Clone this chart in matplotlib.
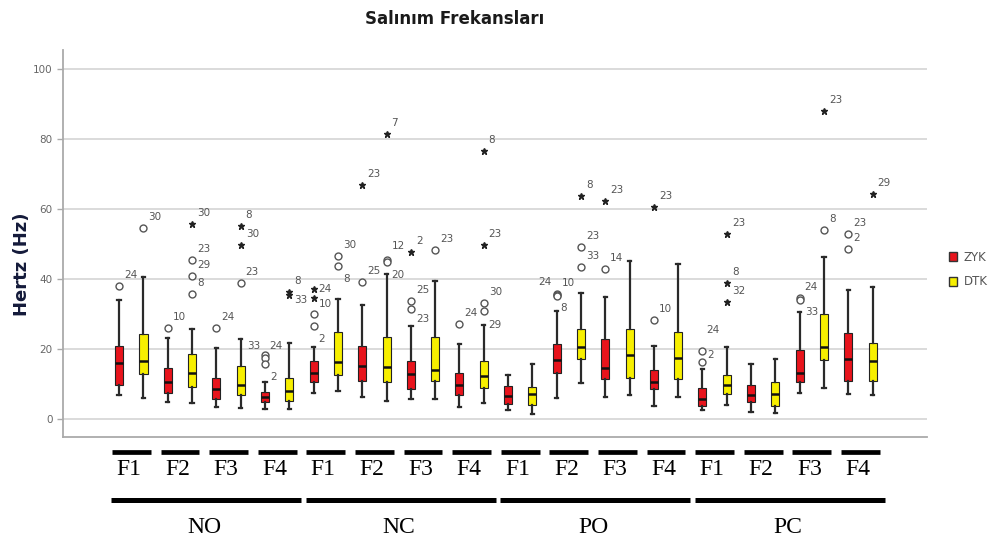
import matplotlib.pyplot as plt
from matplotlib.patches import Patch

conditions = ['NO', 'NC', 'PO', 'PC']
freqs = ['F1', 'F2', 'F3', 'F4']
groups = ['ZYK', 'DTK']
colors = {'ZYK': '#e8141c', 'DTK': '#f7ef00'}

# one entry per box, ordered NO-F1-ZYK, NO-F1-DTK, NO-F2-ZYK, ... PC-F4-DTK
whis_lo = [6.9, 6.0, 5.0, 4.6, 3.5, 3.3, 2.9, 3.0,
           7.6, 8.1, 6.4, 5.2, 5.7, 5.7, 3.5, 4.6,
           2.7, 1.4, 6.0, 10.3, 6.4, 6.9, 3.8, 6.2,
           2.7, 4.0, 2.1, 1.9, 7.6, 8.8, 7.1, 6.9]
q1 = [9.7, 12.9, 7.4, 9.2, 5.9, 6.9, 4.8, 5.2,
      10.7, 12.6, 10.9, 10.5, 8.6, 10.9, 6.9, 8.8,
      4.3, 4.0, 13.3, 17.3, 11.6, 11.9, 8.6, 11.6,
      3.8, 7.1, 4.8, 3.8, 10.7, 16.9, 10.9, 10.9]
med = [16.0, 16.7, 10.5, 13.3, 8.6, 9.7, 6.2, 8.1,
       13.3, 16.2, 15.2, 14.8, 12.9, 14.1, 9.8, 12.2,
       6.5, 7.1, 16.9, 20.5, 14.5, 18.3, 10.5, 17.6,
       5.9, 9.7, 6.9, 7.1, 13.3, 20.5, 17.1, 16.7]
q3 = [20.9, 24.3, 14.6, 18.6, 11.9, 15.2, 7.8, 11.9,
      16.5, 24.9, 20.9, 23.6, 16.5, 23.5, 13.1, 16.5,
      9.5, 9.2, 21.4, 25.9, 22.9, 25.9, 14.0, 24.9,
      8.8, 12.6, 9.7, 10.7, 19.7, 30.0, 24.5, 21.9]
whis_hi = [34.0, 40.7, 23.1, 25.7, 20.4, 22.9, 10.5, 21.9,
           20.5, 34.3, 32.6, 41.6, 26.7, 39.5, 21.6, 26.9,
           12.6, 15.9, 30.9, 36.2, 35.0, 45.2, 20.8, 44.3,
           14.3, 20.7, 15.7, 17.1, 30.7, 46.4, 36.9, 37.9]

# outliers: box index, value, kind (o = outlier, * = extreme), case number
out_box = [0, 1, 2, 3, 3, 3, 3, 4, 5, 5, 5, 6, 6, 6, 7, 7,
           8, 8, 8, 8, 9, 9, 10, 10, 11, 11, 11, 12, 12, 12, 13, 14,
           15, 15, 15, 15, 18, 18, 18, 19, 19, 19, 20, 20, 22, 22,
           24, 24, 25, 25, 25, 28, 28, 29, 29, 30, 30, 31]
out_val = [38.1, 54.6, 26.1, 55.7, 45.4, 40.8, 35.9, 26.1, 55.2, 49.7, 38.8, 18.3, 17.5, 15.8, 36.4, 35.4,
           37.3, 34.5, 30.0, 26.7, 46.7, 43.8, 66.9, 39.2, 81.4, 45.4, 45.0, 47.8, 33.8, 31.4, 48.3, 27.3,
           76.7, 49.7, 33.3, 30.9, 35.7, 35.4, 35.1, 63.8, 49.3, 43.5, 62.4, 43.0, 60.7, 28.3,
           19.5, 16.2, 53.0, 38.9, 33.5, 34.5, 34.2, 88.1, 54.0, 52.9, 48.6, 64.3]
out_kind = ['o', 'o', 'o', '*', 'o', 'o', 'o', 'o', '*', '*', 'o', 'o', 'o', 'o', '*', '*',
            '*', '*', 'o', 'o', 'o', 'o', '*', 'o', '*', 'o', 'o', '*', 'o', 'o', 'o', 'o',
            '*', '*', 'o', 'o', 'o', 'o', 'o', '*', 'o', 'o', '*', 'o', '*', 'o',
            'o', 'o', '*', '*', '*', 'o', 'o', '*', 'o', 'o', 'o', '*']
out_lab = ['24', '30', '10', '30', '23', '29', '8', '24', '8', '30', '23', '33', '24', '2', '8', '33',
           '24', '10', '', '2', '30', '8', '23', '25', '7', '12', '20', '2', '25', '23', '23', '24',
           '8', '23', '30', '29', '24', '10', '8', '8', '23', '33', '23', '14', '23', '10',
           '24', '2', '23', '8', '32', '24', '33', '23', '8', '23', '2', '29']

# label placement (pixels) where it differs from the usual upper right
lab_shift = {(6, '33'): (-18, 9), (6, '24'): (4, 12), (6, '2'): (5, -13),
             (7, '33'): (5, -5), (8, '24'): (5, 0), (8, '10'): (5, -6), (8, '2'): (5, -13),
             (9, '8'): (5, -13), (11, '12'): (5, 14), (11, '20'): (5, -13),
             (12, '23'): (5, -10), (15, '29'): (5, -14),
             (18, '24'): (-18, 12), (18, '10'): (5, 12), (18, '8'): (4, -12),
             (24, '24'): (4, 21), (24, '2'): (5, 7), (28, '33'): (5, -12)}

plt.rcParams['font.family'] = ['DejaVu Sans']
fig = plt.figure(figsize=(10.03, 5.39), dpi=100)
ax = fig.add_axes([0.0631, 0.1892, 0.8614, 0.718])

n = len(med)
positions = list(range(n))
box_groups = [groups[i % 2] for i in range(n)]
stats = [dict(med=med[i], q1=q1[i], q3=q3[i], whislo=whis_lo[i], whishi=whis_hi[i], fliers=[])
         for i in range(n)]
bp = ax.bxp(stats, positions=positions, widths=0.33, capwidths=0.14, patch_artist=True,
            showfliers=False,
            boxprops=dict(edgecolor='#222222', linewidth=0.8),
            whiskerprops=dict(color='#2a2a2a', linewidth=1.6),
            capprops=dict(color='#2a2a2a', linewidth=1.6),
            medianprops=dict(color='#111111', linewidth=1.8))
for patch, g in zip(bp['boxes'], box_groups):
    patch.set_facecolor(colors[g])

for b, v, k, lab in zip(out_box, out_val, out_kind, out_lab):
    if k == 'o':
        ax.plot(b, v, 'o', ms=5, mfc='white', mec='#555555', mew=1.0, zorder=4)
    else:
        ax.plot(b, v, '*', ms=5, color='#222222', zorder=4)
    if lab:
        dx, dy = lab_shift.get((b, lab), (5, 11))
        ax.annotate(lab, (b, v), xytext=(dx, dy), textcoords='offset pixels',
                    fontsize=7.5, color='#555555', ha='left', va='center')

ax.set_xlim(-2.3, 33.25)
ax.set_ylim(-5.1, 105.5)
ax.set_yticks([0, 20, 40, 60, 80, 100])
ax.set_xticks([])
ax.tick_params(axis='y', labelsize=7.5, labelcolor='#666666', color='#aaaaaa', length=4, width=1)
ax.yaxis.grid(True, color='#d4d4d4', linewidth=1.2)
ax.set_axisbelow(True)
for side in ['top', 'right']:
    ax.spines[side].set_visible(False)
for side in ['left', 'bottom']:
    ax.spines[side].set_color('#aaaaaa')
    ax.spines[side].set_linewidth(1.3)

fig.text(455 / 1003, 1 - 19 / 539, 'Salınım Frekansları', ha='center', va='center',
         fontsize=12, fontweight='bold', color='#1a1a1a')
fig.text(22 / 1003, 1 - 264 / 539, 'Hertz (Hz)', rotation=90, ha='center', va='center',
         fontsize=13, fontweight='bold', color='#141a3a')

# hand-drawn style grouping bars under the axis
tr = ax.get_xaxis_transform()
serif = ['Liberation Serif', 'DejaVu Serif']
for ci, cond in enumerate(conditions):
    for fi, f in enumerate(freqs):
        j = ci * 4 + fi
        c = 2 * j + 0.5
        ax.plot([c - 0.8, c + 0.8], [-0.0375, -0.0375], transform=tr, color='black',
                lw=3.4, clip_on=False, solid_capstyle='butt')
        ax.text(c - 0.1, -0.083, f, transform=tr, ha='center', va='center',
                fontsize=17, family=serif, color='black')
    first = ci * 8
    last = ci * 8 + 7
    ax.plot([first - 0.32, last + 0.5], [-0.164, -0.164], transform=tr, color='black',
            lw=3.6, clip_on=False, solid_capstyle='butt')
    ax.text((first + last) / 2, -0.233, cond, transform=tr, ha='center', va='center',
            fontsize=17, family=serif, color='black')

handles = [Patch(facecolor=colors[g], edgecolor='#333333', label=g) for g in groups]
fig.legend(handles=handles, loc='upper left', bbox_to_anchor=(938 / 1003, 1 - 240 / 539),
           frameon=False, handlelength=0.75, handleheight=0.75, handletextpad=0.5,
           labelspacing=1.0, fontsize=8.5, labelcolor='#555555')

fig.savefig('out.png', dpi=100)
